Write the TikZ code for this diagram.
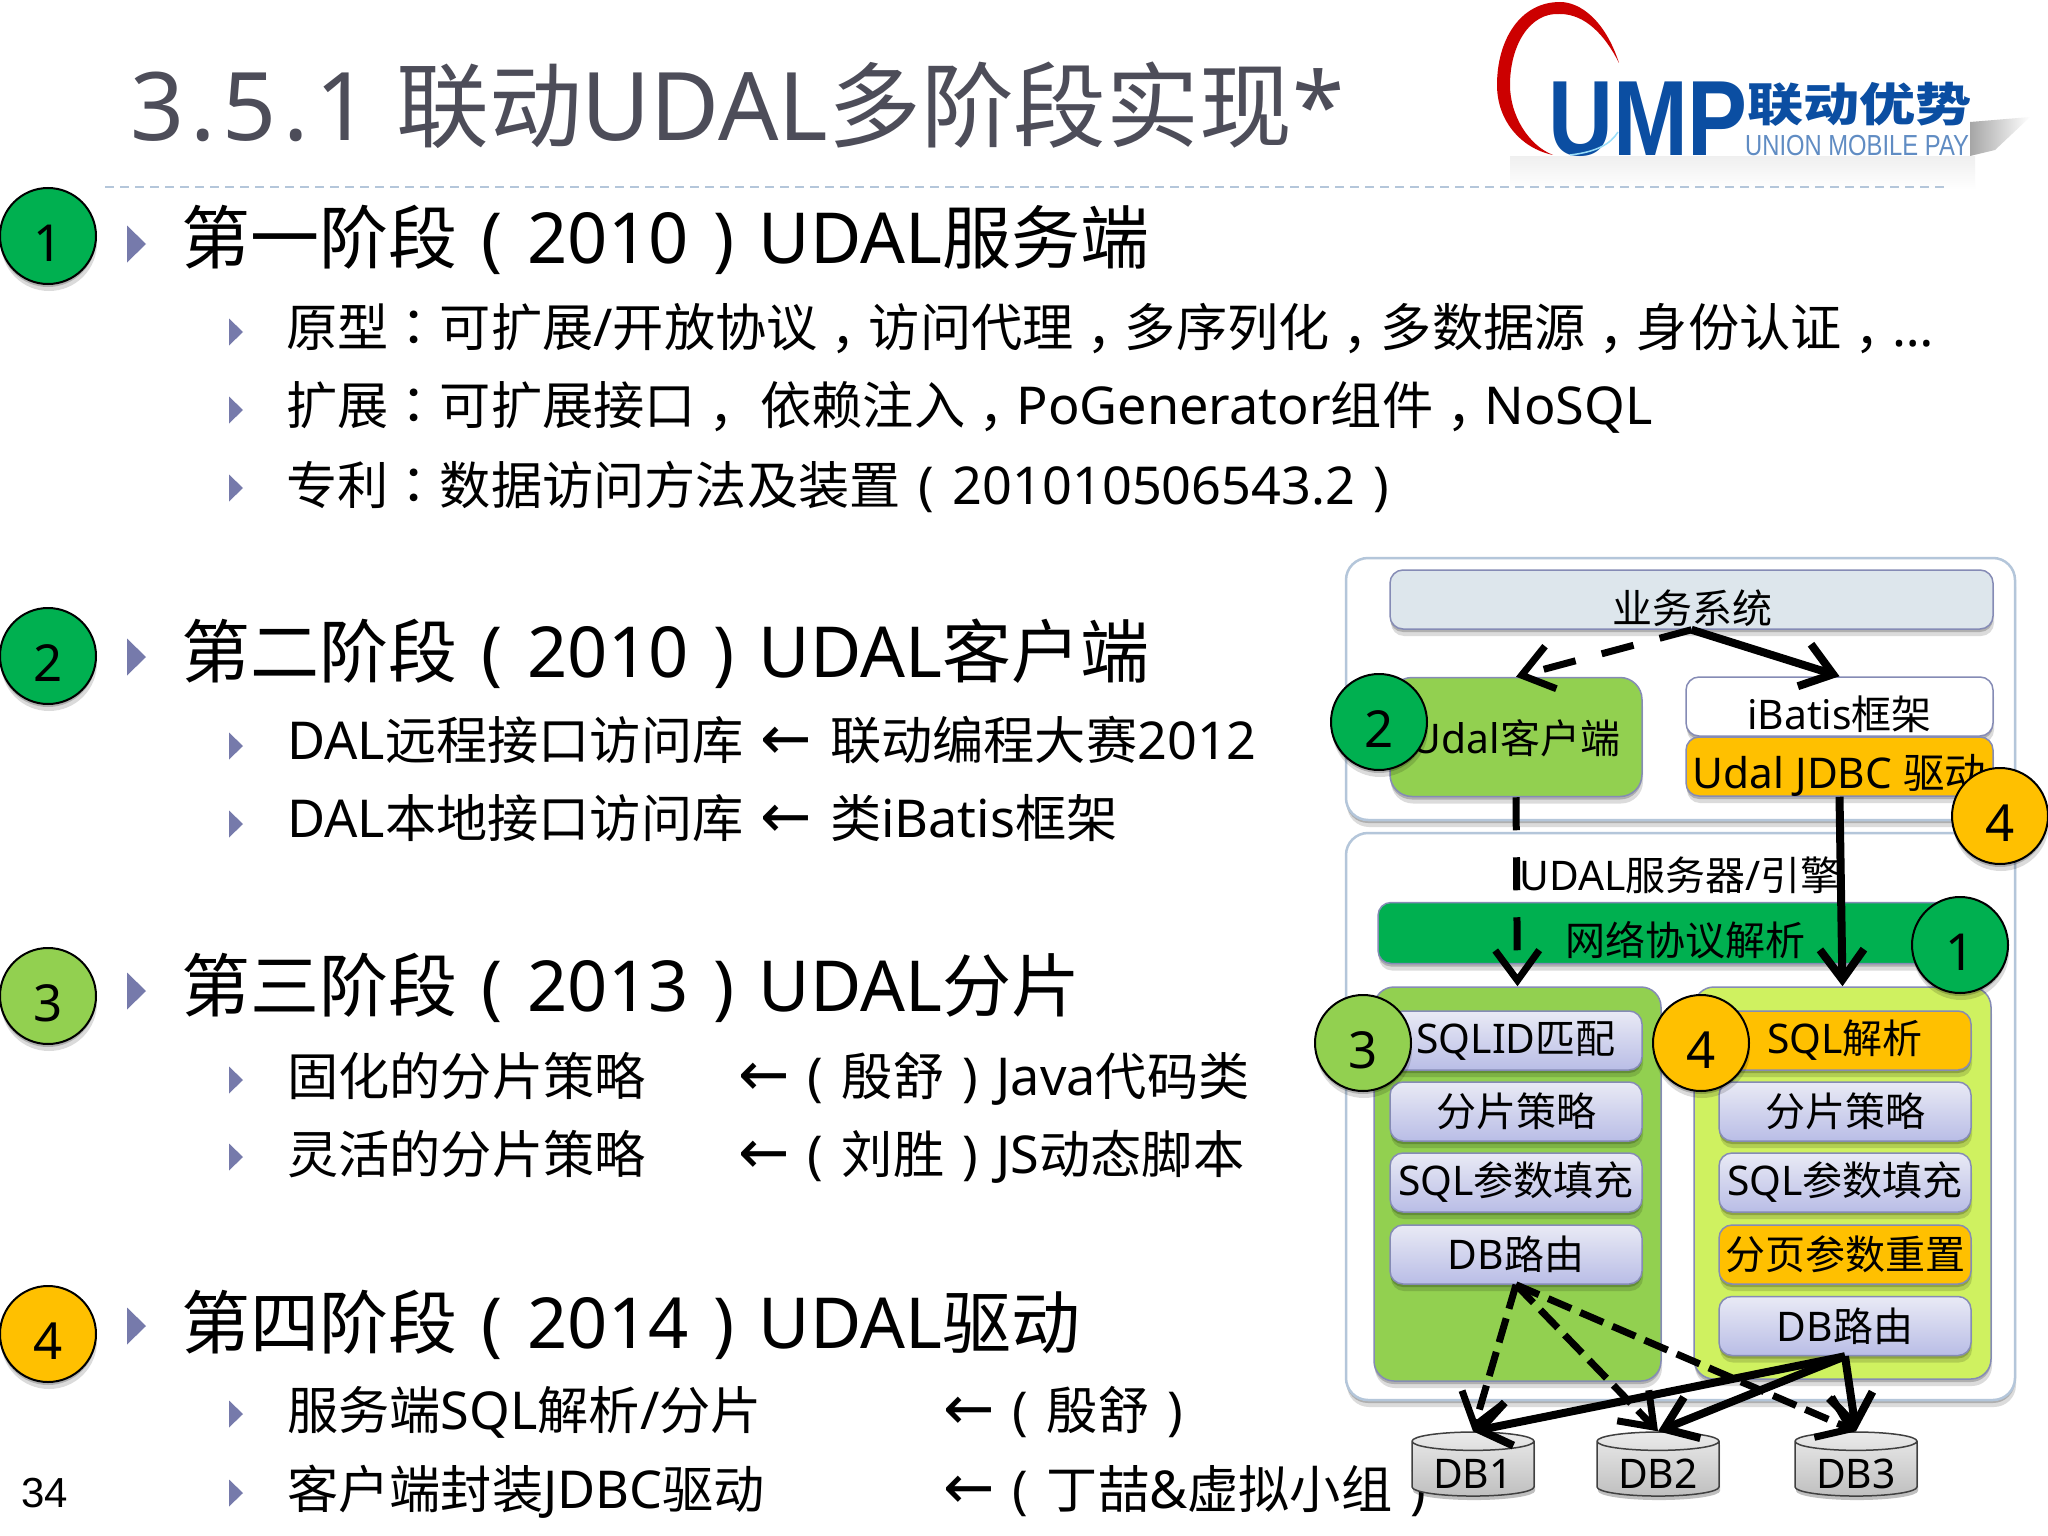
\documentclass[tikz,border=0pt]{standalone}
\usepackage{fontspec}
\usetikzlibrary{arrows.meta,shapes.geometric,shadows}
\setmainfont{Noto Sans}[Scale=1.02]
\newfontfamily\latn{Noto Sans}[Scale=1.02]
\newfontfamily\cjk{Noto Sans CJK SC}
\newfontfamily\cjkp{Noto Sans CJK TC}
\newfontfamily\djv{DejaVu Sans}
\newXeTeXintercharclass\cjkcls
\newXeTeXintercharclass\pcls
\count255="4E00
\loop\XeTeXcharclass\count255=\cjkcls\ifnum\count255<"9FFF\advance\count255 by 1\repeat
\XeTeXcharclass"FF0C=\pcls \XeTeXcharclass"FF1A=\pcls
\XeTeXinterchartoks 0 \cjkcls={\cjk}
\XeTeXinterchartoks \cjkcls 0={\latn}
\XeTeXinterchartoks 4095 \cjkcls={\cjk}
\XeTeXinterchartoks \cjkcls 4095={\latn}
\XeTeXinterchartoks 0 \pcls={\cjkp}
\XeTeXinterchartoks \cjkcls \pcls={\cjkp}
\XeTeXinterchartoks 4095 \pcls={\cjkp}
\XeTeXinterchartoks \pcls \cjkcls={\cjk}
\XeTeXinterchartoks \pcls 0={\latn}
\XeTeXinterchartoks \pcls 4095={\latn}
\newcommand{\Cm}{\raisebox{-.33em}{，}}
\newcommand{\Lp}{\hbox to 1em{\hss\latn(\hss}}
\newcommand{\Rp}{\hbox to 1em{\hss\latn)\hss}}
\newcommand{\Larr}{{\djv\scalebox{1.2}{←}}}
\newcommand{\low}[2]{\raisebox{-#1}[0pt][0pt]{#2}}
\definecolor{gA}{HTML}{00B050}
\definecolor{gB}{HTML}{92D050}
\definecolor{gC}{HTML}{CFF160}
\definecolor{orangeA}{HTML}{FFC000}
\definecolor{bul}{HTML}{767AAB}
\definecolor{titlec}{HTML}{4D4D59}
\definecolor{edgeB}{HTML}{858BB5}
\definecolor{panelE}{HTML}{B4C6DA}
\definecolor{logoB}{HTML}{0B4EA2}
\definecolor{ywfill}{HTML}{DDE6EC}
\definecolor{cellT}{HTML}{E9EAF5}
\definecolor{cellB}{HTML}{B9BDE6}
\tikzset{
 x=1pt,y=-1pt,
 softsh/.style={drop shadow={shadow xshift=0pt,shadow yshift=-3pt,opacity=.2,fill=black},
                drop shadow={shadow xshift=1pt,shadow yshift=-7pt,opacity=.14,fill=black}},
 titletext/.style={anchor=base west,inner sep=0pt,text=titlec,font=\fontsize{92.8}{92.8}\selectfont},
 headtext/.style={anchor=base west,inner sep=0pt,font=\fontsize{69}{69}\selectfont},
 subtext/.style={anchor=base west,inner sep=0pt,font=\fontsize{51.2}{51.2}\selectfont},
 lbl/.style={inner sep=0pt,font=\fontsize{40}{40}\selectfont},
 panel/.style={draw=panelE,line width=2.5pt,fill=white,rounded corners=22pt,inner sep=0pt,softsh},
 bigbox/.style={draw=edgeB,line width=1.5pt,rounded corners=13pt,inner sep=0pt,softsh},
 cell/.style={bigbox,minimum width=252pt,minimum height=59pt,top color=cellT,bottom color=cellB,font=\fontsize{40}{40}\selectfont},
 orangecell/.style={bigbox,minimum width=252pt,minimum height=59pt,fill=orangeA,font=\fontsize{40}{40}\selectfont},
 numc/.style={circle,draw=black,line width=2pt,minimum size=96pt,inner sep=0pt,softsh,font=\fontsize{50}{50}\selectfont},
 dbc/.style={cylinder,shape border rotate=90,aspect=.23,draw=black!75,line width=1.5pt,minimum width=122pt,minimum height=64pt,inner sep=0pt,top color=white!92!black,bottom color=black!25,drop shadow={shadow xshift=1pt,shadow yshift=-4pt,opacity=.25,fill=black},font=\fontsize{40}{40}\selectfont},
 flow/.style={line width=8pt,-{Straight Barb[length=30pt,width=44pt,line width=8pt]}},
 flowd/.style={line width=7pt,-{Straight Barb[length=30pt,width=44pt,line width=7pt]},dash pattern=on 33pt off 27pt},
 flowdb/.style={line width=7pt,-{Straight Barb[length=30pt,width=44pt,line width=7pt]},dash pattern=on 25pt off 10pt},
}
\begin{document}
\XeTeXinterchartokenstate=1
\begin{tikzpicture}
\path[use as bounding box,fill=white] (0,0) rectangle (2048,1536);
% logo
\shade[top color=black!6,bottom color=white,draw=none] (1510,157) rectangle (1975,190);
\shade[left color=black!35,right color=white,draw=none] (1970,122) -- (2030,117) -- (1995,150) -- (1970,156) -- cycle;
\fill[color=red!80!black] (1619,63) .. controls (1605,20) and (1580,2) .. (1560,2) .. controls (1520,2) and (1497,40) .. (1497,85) .. controls (1497,120) and (1520,148) .. (1553,155) .. controls (1528,145) and (1510,115) .. (1510,85) .. controls (1510,45) and (1530,12) .. (1560,14) .. controls (1585,14) and (1605,35) .. (1619,63) -- cycle;
\node (ump) [anchor=base west,inner sep=0pt,text=logoB] at (1548,156) {\scalebox{.84}[1]{\fontspec{Liberation Sans}\fontsize{107}{107}\bfseries\selectfont UMP}};
\draw[cyan!40!white,line width=1.5pt] (1618,132) .. controls (1610,145) and (1595,152) .. (1570,155);
\node (lyys) [anchor=base west,inner sep=0pt,text=logoB] at (1747,122) {\scalebox{1.22}[1]{\fontsize{46}{46}\bfseries\selectfont 联动优势}};
\node (ump2) [anchor=base west,inner sep=0pt,text=logoB!65!white] at (1745,156) {\scalebox{.82}[1]{\fontspec{Liberation Sans}\fontsize{29}{29}\selectfont UNION MOBILE PAY}};
% title
\node (ttl) [titletext] at (130,141) {\addfontfeature{LetterSpace=7}3.5.1};
\node (ttl2) [titletext] at (396,141) {联动UDAL多阶段实现*};
\draw[panelE,line width=2pt,dash pattern=on 9pt off 6pt] (105,187) -- (1948,187);
% left numbered circles
\node (n1) [numc,fill=gA] at (48,236) {\low{25pt}{1}};
\node (n2) [numc,fill=gA] at (48,656) {\low{25pt}{2}};
\node (n3) [numc,fill=gB] at (48,996) {\low{25pt}{3}};
\node (n4) [numc,fill=orangeA] at (48,1334) {\low{25pt}{4}};
% bullets
\foreach \yy in {244,657,991,1326} \fill[bul] (127,\yy-18.5) -- (146,\yy) -- (127,\yy+18.5) -- cycle;
\foreach \yy in {332,410,488,746,824,1080,1157,1414,1493} \fill[bul] (229,\yy-13.5) -- (243,\yy) -- (229,\yy+13.5) -- cycle;
% text
\node (h1) [headtext] at (181,263) {第一阶段\Lp 2010\Rp UDAL服务端};
\node (s11) [subtext] at (286,346) {原型：可扩展/开放协议\Cm 访问代理\Cm 多序列化\Cm 多数据源\Cm 身份认证\Cm …};
\node (s12) [subtext] at (286,424) {扩展：可扩展接口\Cm{} 依赖注入\Cm PoGenerator组件\Cm NoSQL};
\node (s13) [subtext] at (286,504) {专利：数据访问方法及装置\Lp 201010506543.2\Rp};
\node (h2) [headtext] at (181,677) {第二阶段\Lp 2010\Rp UDAL客户端};
\node (s21) [subtext] at (287,759) {DAL远程接口访问库 \kern4pt\Larr\kern4pt{} 联动编程大赛2012};
\node (s22) [subtext] at (287,837) {DAL本地接口访问库 \kern4pt\Larr\kern4pt{} 类iBatis框架};
\node (h3) [headtext] at (181,1011) {第三阶段\Lp 2013\Rp UDAL分片};
\node (s31) [subtext] at (287,1095) {固化的分片策略};
\node (s31b) [subtext] at (738,1095) {\Larr\Lp 殷舒\Rp Java代码类};
\node (s32) [subtext] at (287,1173) {灵活的分片策略};
\node (s32b) [subtext] at (738,1173) {\Larr\Lp 刘胜\Rp JS动态脚本};
\node (h4) [headtext] at (181,1348) {第四阶段\Lp 2014\Rp UDAL驱动};
\node (s41) [subtext] at (287,1429) {服务端SQL解析/分片};
\node (s41b) [subtext] at (943,1429) {\Larr\Lp 殷舒\Rp};
\node (s42) [subtext] at (287,1508) {客户端封装JDBC驱动};
\node (s42b) [subtext] at (943,1508) {\Larr\Lp 丁喆\&虚拟小组\Rp};
\node (pg) [anchor=base west,inner sep=0pt,font=\fontspec{Liberation Sans}\fontsize{42}{42}\selectfont] at (21,1507) {34};
% diagram panels
\node (pt) [panel,minimum width=669pt,minimum height=262pt] at (1680.5,689) {};
\node (pb) [panel,minimum width=669pt,minimum height=567pt] at (1680.5,1116.5) {};
\node (yw) [bigbox,fill=ywfill,minimum width=603pt,minimum height=59pt] at (1691.5,599.5) {};
\node (ywt) [lbl] at (1692,608) {业务系统};
\node (ud) [bigbox,fill=gB,minimum width=252pt,minimum height=119pt,rounded corners=22pt,font=\fontsize{40}{40}\selectfont] at (1516,737) {\low{16pt}{Udal客户端}};
\node (ib) [bigbox,fill=white,minimum width=307pt,minimum height=59pt,font=\fontsize{40}{40}\selectfont] at (1839.5,706.5) {\low{23pt}{iBatis框架}};
\node (jd) [bigbox,fill=orangeA,minimum width=307pt,minimum height=59pt,font=\fontsize{41.5}{41.5}\selectfont] at (1839.5,766.5) {\low{22pt}{Udal JDBC 驱动}};
\node (srv) [lbl] at (1680,875) {UDAL服务器/引擎};
\node (net) [bigbox,fill=gA,minimum width=615pt,minimum height=61pt,font=\fontsize{40}{40}\selectfont] at (1685.5,933) {\low{22pt}{网络协议解析}};
\node (pl) [bigbox,fill=gB,rounded corners=20pt,minimum width=287pt,minimum height=394pt] at (1517.5,1184) {};
\node (pr) [bigbox,fill=gC,rounded corners=20pt,minimum width=297pt,minimum height=392pt] at (1842.5,1183) {};
\node (l1) [cell] at (1516,1040.5) {SQLID匹配};
\node (l2) [cell] at (1516,1111.5) {分片策略};
\node (l3) [cell] at (1516,1182.5) {SQL参数填充};
\node (l4) [cell] at (1516,1254.5) {DB路由};
\node (r1) [orangecell] at (1845,1040.5) {SQL解析};
\node (r2) [cell] at (1845,1111.5) {分片策略};
\node (r3) [cell] at (1845,1182.5) {SQL参数填充};
\node (r4) [orangecell] at (1845,1254.5) {分页参数重置};
\node (r5) [cell] at (1845,1326) {DB路由};
\node (d1) [dbc] at (1473,1469) {\low{19pt}{DB1}};
\node (d2) [dbc] at (1658,1469) {\low{19pt}{DB2}};
\node (d3) [dbc] at (1856,1469) {\low{19pt}{DB3}};
% connectors
\draw[flowd] (yw.south) -- (ud.north);
\draw[flow] (yw.south) -- (ib.north);
\draw[flowd] (ud.south) -- (pl.north);
\draw[flow] (jd.south) -- (pr.north);
\draw[flowdb] (l4.south) -- (d1.north);
\draw[flowdb] (l4.south) -- (d2.north);
\draw[flowdb] (l4.south) -- (d3.north);
\draw[flow] (r5.south) -- (d1.north);
\draw[flow] (r5.south) -- (d2.north);
\draw[flow] (r5.south) -- (d3.north);
% diagram circles
\node (c2) [numc,fill=gA] at (1379,722) {\low{25pt}{2}};
\node (c4a) [numc,fill=orangeA] at (2000,816) {\low{25pt}{4}};
\node (c1) [numc,fill=gA] at (1960,945) {\low{25pt}{1}};
\node (c3) [numc,fill=gB] at (1363,1043) {\low{25pt}{3}};
\node (c4b) [numc,fill=orangeA] at (1701,1043) {\low{25pt}{4}};
\end{tikzpicture}
\end{document}
